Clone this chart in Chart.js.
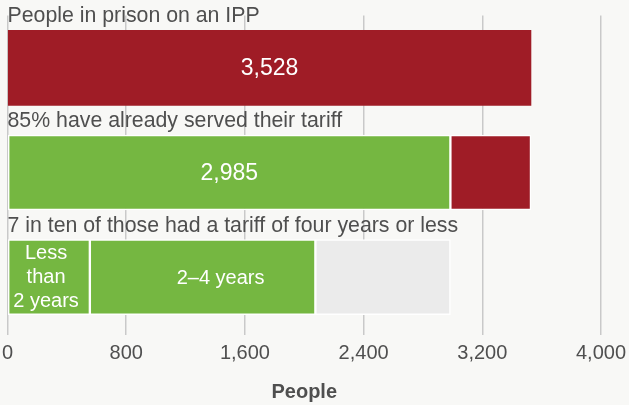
<!DOCTYPE html>
<html>
<head>
<meta charset="utf-8">
<title>People in prison on an IPP</title>
<script src="https://cdn.jsdelivr.net/npm/chart.js@4.4.1/dist/chart.umd.min.js"></script>
<style>
  html, body { margin: 0; padding: 0; background: #f8f8f6; }
  #wrap { position: relative; width: 629px; height: 405px; }
</style>
</head>
<body>
<div id="wrap"><canvas id="ipp"></canvas></div>
<script>
// Rows, top to bottom
const categories = [
  "People in prison on an IPP",
  "85% have already served their tariff",
  "7 in ten of those had a tariff of four years or less"
];
// Stacked segments, left to right within each row
const firstPart = [3528, 2985, 555];
const secondPart = [null, 543, 1520];
const thirdPart = [null, null, 910];

const xTicks = [0, 800, 1600, 2400, 3200, 4000];

const fmt = v => v.toLocaleString("en-US");
const firstLabels = [fmt(firstPart[0]), fmt(firstPart[1]), ["Less", "than", "2 years"]];
const secondLabels = [null, null, "2–4 years"];

const RED = "#9f1c26";
const GREEN = "#75b741";
const GREY = "#ebebeb";
const TEXT = "#4f4f4f";
const FONT = "'Liberation Sans', Arial, Helvetica, sans-serif";

// Row headings above each bar plus the white labels inside the segments
const barText = {
  id: "barText",
  afterDatasetsDraw(chart) {
    const ctx = chart.ctx;
    const area = chart.chartArea;
    ctx.save();

    const first = chart.getDatasetMeta(0);
    ctx.fillStyle = TEXT;
    ctx.font = "21.3px " + FONT;
    ctx.textAlign = "left";
    ctx.textBaseline = "alphabetic";
    first.data.forEach((bar, i) => {
      const top = bar.y - bar.height / 2;
      ctx.fillText(categories[i], area.left, top - 8);
    });

    chart.data.datasets.forEach((ds, d) => {
      if (!ds.segmentLabels) return;
      const meta = chart.getDatasetMeta(d);
      meta.data.forEach((bar, i) => {
        const lab = ds.segmentLabels[i];
        if (!lab || ds.data[i] == null) return;
        const cx = (bar.x + bar.base) / 2 + (ds.labelShift ? ds.labelShift[i] || 0 : 0);
        ctx.fillStyle = "#ffffff";
        ctx.textAlign = "center";
        ctx.textBaseline = "middle";
        if (Array.isArray(lab)) {
          ctx.font = "20px " + FONT;
          const lh = 24;
          const y0 = bar.y - (lab.length - 1) * lh / 2;
          lab.forEach((line, k) => ctx.fillText(line, cx, y0 + k * lh));
        } else {
          ctx.font = (typeof ds.data[i] === "number" && lab === fmt(ds.data[i]) ? "23px " : "20px ") + FONT;
          ctx.fillText(lab, cx, bar.y + 1);
        }
      });
    });
    ctx.restore();
  }
};

new Chart(document.getElementById("ipp"), {
  type: "bar",
  data: {
    labels: categories,
    datasets: [
      {
        data: firstPart,
        backgroundColor: [RED, GREEN, GREEN],
        borderColor: "#ffffff",
        borderWidth: [0, 1.5, 1.5],
        borderSkipped: false,
        segmentLabels: firstLabels,
        labelShift: [0, 0, -3]
      },
      {
        data: secondPart,
        backgroundColor: [RED, RED, GREEN],
        borderColor: "#ffffff",
        borderWidth: 1.5,
        borderSkipped: false,
        segmentLabels: secondLabels,
        labelShift: [0, 0, 18]
      },
      {
        data: thirdPart,
        backgroundColor: GREY,
        borderColor: "#ffffff",
        borderWidth: 1.5,
        borderSkipped: false
      }
    ]
  },
  options: {
    indexAxis: "y",
    responsive: true,
    maintainAspectRatio: false,
    animation: false,
    barThickness: 75,
    layout: { padding: { left: 7.5, right: 28, top: 15.5, bottom: 0 } },
    plugins: {
      legend: { display: false },
      tooltip: { enabled: false }
    },
    scales: {
      x: {
        stacked: true,
        min: 0,
        max: 4000,
        afterBuildTicks: axis => { axis.ticks = xTicks.map(v => ({ value: v })); },
        // let the end labels hang over the padding instead of shrinking the plot
        afterFit: axis => { axis.paddingLeft = 0; axis.paddingRight = 0; },
        grid: { color: "#c9c9c9", lineWidth: 1.5, tickLength: 5.5, drawTicks: true },
        border: { display: false },
        ticks: {
          padding: 6,
          color: TEXT,
          font: { family: FONT, size: 20 },
          callback: v => fmt(v),
          maxRotation: 0
        },
        title: {
          display: true,
          text: "People",
          color: TEXT,
          font: { family: FONT, size: 20, weight: "bold" },
          padding: { top: 9, bottom: 1 }
        }
      },
      y: {
        stacked: true,
        display: false
      }
    }
  },
  plugins: [barText]
});
</script>
</body>
</html>
